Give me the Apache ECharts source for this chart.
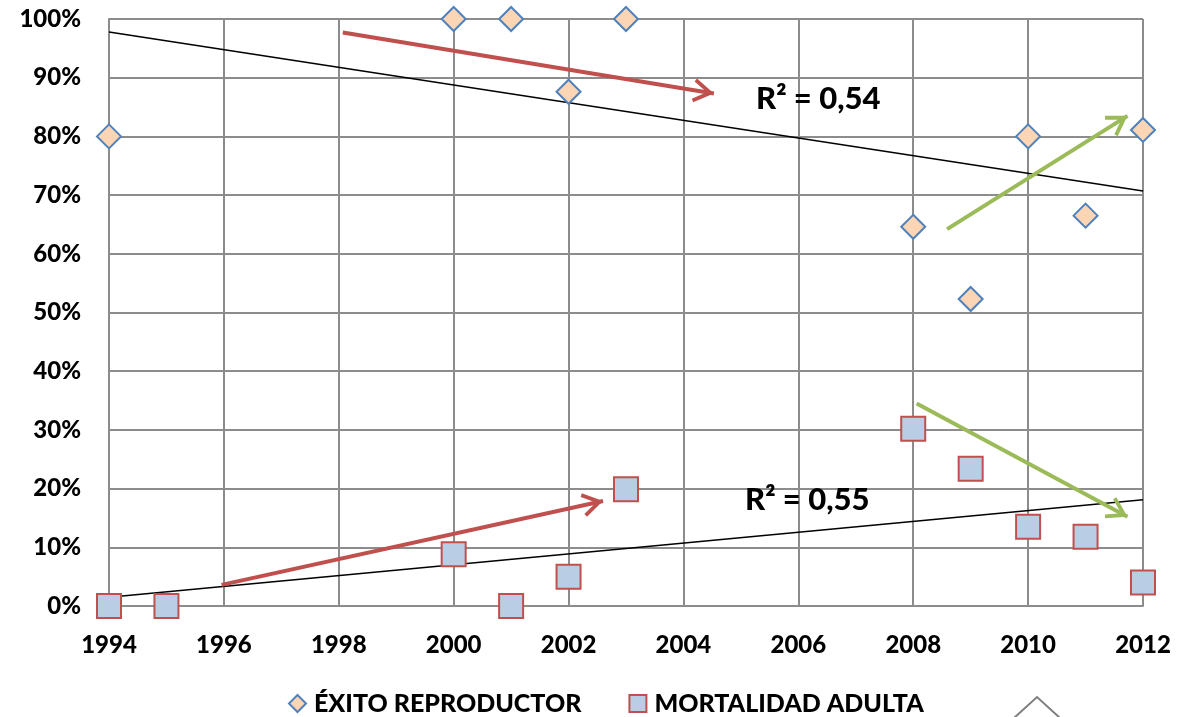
<!DOCTYPE html>
<html>
<head>
<meta charset="utf-8">
<script src="https://cdn.jsdelivr.net/npm/echarts@6/dist/echarts.min.js"></script>
<style>
html,body{margin:0;padding:0;background:#fff;}
#c{width:1191px;height:717px;}
</style>
</head>
<body>
<div id="c"></div>
<script>
// ---- data ----
var exitoYears = [1994, 2000, 2001, 2002, 2003, 2008, 2009, 2010, 2011, 2012];
var exitoValues = [80, 100, 100, 87.6, 100, 64.6, 52.3, 80, 66.5, 81.1];
var mortYears = [1994, 1995, 2000, 2001, 2002, 2003, 2008, 2009, 2010, 2011, 2012];
var mortValues = [0, 0, 8.8, 0, 5.0, 19.9, 30.2, 23.4, 13.5, 11.8, 4.0];
// trend line end points (year, %)
var trendExito = [[1994, 97.8], [2012, 70.7]];
var trendMort = [[1994, 1.5], [2012, 18.1]];
// annotation arrows: [start, end] in (year, %)
var arrowsRed = [[[1998.07, 97.7], [2004.53, 87.3]], [[1995.96, 3.6], [2002.6, 17.9]]];
var arrowsGreen = [[[2008.59, 64.2], [2011.73, 83.5]], [[2008.06, 34.5], [2011.73, 15.2]]];
var r2Labels = ['R\u00b2 = 0,54', 'R\u00b2 = 0,55'];
var seriesNames = ['\u00c9XITO REPRODUCTOR', 'MORTALIDAD ADULTA'];

var FONT = 'Lato';
var W = 900;
var gridColor = '#8c8c8c';
var chevron = 'path://M50 0 L50.01 0 Z M50 87 L100 166 L86 174 L50 117 L14 174 L0 166 Z';

function pairs(xs, ys) { return xs.map(function (x, i) { return [x, ys[i]]; }); }
function arrowData(list, color) {
  return list.map(function (a) {
    return [{ coord: a[0], lineStyle: { color: color } }, { coord: a[1], lineStyle: { color: color } }];
  });
}

var chart = echarts.init(document.getElementById('c'));
chart.setOption({
  animation: false,
  backgroundColor: '#fff',
  grid: { left: 109, right: 48, top: 19, bottom: 111, show: false },
  xAxis: {
    type: 'value', min: 1994, max: 2012, interval: 2,
    axisLine: { show: true, onZero: false, lineStyle: { color: gridColor, width: 2 } },
    axisTick: { show: false },
    splitLine: { show: true, lineStyle: { color: gridColor, width: 2 } },
    axisLabel: { color: '#000', fontFamily: FONT, fontWeight: W, fontSize: 24, margin: 27,
      formatter: function (v) { return String(v); } }
  },
  yAxis: {
    type: 'value', min: 0, max: 100, interval: 10,
    axisLine: { show: true, lineStyle: { color: gridColor, width: 2 } },
    axisTick: { show: false },
    splitLine: { show: true, lineStyle: { color: gridColor, width: 2 } },
    axisLabel: { color: '#000', fontFamily: FONT, fontWeight: W, fontSize: 24, margin: 28, formatter: '{value}%' }
  },
  legend: {
    bottom: 1, left: 288, padding: 0, itemGap: 47, itemWidth: 17, itemHeight: 17,
    textStyle: { color: '#000', fontFamily: FONT, fontWeight: W, fontSize: 25, padding: [0, 0, 0, 3] },
    data: [
      { name: seriesNames[0], icon: 'diamond' },
      { name: seriesNames[1], icon: 'rect' }
    ]
  },
  series: [
    {
      name: 'trendE', type: 'line', data: trendExito, symbol: 'none', silent: true,
      lineStyle: { color: '#000', width: 1.5 }, z: 2
    },
    {
      name: 'trendM', type: 'line', data: trendMort, symbol: 'none', silent: true,
      lineStyle: { color: '#000', width: 1.5 }, z: 2
    },
    {
      name: 'arrows', type: 'line', data: [], z: 3,
      markLine: {
        silent: true, animation: false,
        symbol: ['none', chevron], symbolSize: [24, 42],
        label: { show: false },
        lineStyle: { width: 4, type: 'solid' },
        data: arrowData(arrowsRed, '#c0504d').concat(arrowData(arrowsGreen, '#9bbb59'))
      }
    },
    {
      name: seriesNames[0], type: 'scatter', data: pairs(exitoYears, exitoValues),
      symbol: 'diamond', symbolSize: 24, z: 5,
      itemStyle: { color: '#fcd5b5', borderColor: '#4f81bd', borderWidth: 2, opacity: 1 }
    },
    {
      name: seriesNames[1], type: 'scatter', data: pairs(mortYears, mortValues),
      symbol: 'rect', symbolSize: 24, z: 5,
      itemStyle: { color: '#b9cde5', borderColor: '#c0504d', borderWidth: 2, opacity: 1 }
    }
  ],
  graphic: [
    { type: 'text', left: 756, top: 83, style: { text: r2Labels[0], fill: '#000', font: W + ' 31px Lato' }, z: 10 },
    { type: 'text', left: 745, top: 484, style: { text: r2Labels[1], fill: '#000', font: W + ' 31px Lato' }, z: 10 },
    { type: 'polyline', shape: { points: [[1014, 718], [1037, 697], [1060, 718]] }, style: { stroke: '#7f7f7f', lineWidth: 2, fill: 'none' }, z: 10 }
  ]
});
</script>
</body>
</html>
